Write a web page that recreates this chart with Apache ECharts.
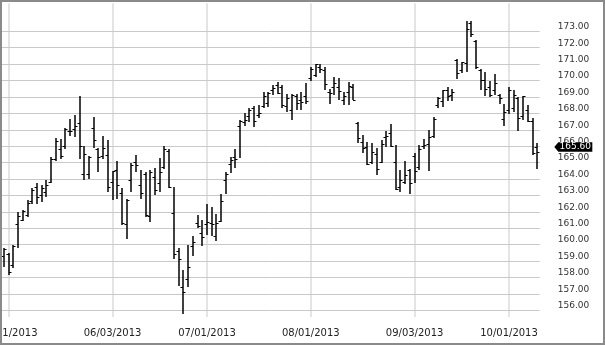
<!DOCTYPE html>
<html><head><meta charset="utf-8">
<script src="https://cdn.jsdelivr.net/npm/echarts@6/dist/echarts.min.js"></script>
<style>html,body{margin:0;padding:0;background:#fff}#c{width:605px;height:345px}</style>
</head><body><div id="c"></div>
<script>
const categories = [
'04/30/2013',
'05/01/2013','05/02/2013','05/03/2013','05/06/2013','05/07/2013','05/08/2013','05/09/2013','05/10/2013','05/13/2013','05/14/2013','05/15/2013','05/16/2013','05/17/2013','05/20/2013','05/21/2013','05/22/2013','05/23/2013','05/24/2013','05/28/2013','05/29/2013','05/30/2013','05/31/2013',
'06/03/2013','06/04/2013','06/05/2013','06/06/2013','06/07/2013','06/10/2013','06/11/2013','06/12/2013','06/13/2013','06/14/2013','06/17/2013','06/18/2013','06/19/2013','06/20/2013','06/21/2013','06/24/2013','06/25/2013','06/26/2013','06/27/2013','06/28/2013',
'07/01/2013','07/02/2013','07/03/2013','07/05/2013','07/08/2013','07/09/2013','07/10/2013','07/11/2013','07/12/2013','07/15/2013','07/16/2013','07/17/2013','07/18/2013','07/19/2013','07/22/2013','07/23/2013','07/24/2013','07/25/2013','07/26/2013','07/29/2013','07/30/2013','07/31/2013',
'08/01/2013','08/02/2013','08/05/2013','08/06/2013','08/07/2013','08/08/2013','08/09/2013','08/12/2013','08/13/2013','08/14/2013','08/15/2013','08/16/2013','08/19/2013','08/20/2013','08/21/2013','08/22/2013','08/23/2013','08/26/2013','08/27/2013','08/28/2013','08/29/2013','08/30/2013',
'09/03/2013','09/04/2013','09/05/2013','09/06/2013','09/09/2013','09/10/2013','09/11/2013','09/12/2013','09/13/2013','09/16/2013','09/17/2013','09/18/2013','09/19/2013','09/20/2013','09/23/2013','09/24/2013','09/25/2013','09/26/2013','09/27/2013','09/30/2013',
'10/01/2013','10/02/2013','10/03/2013','10/04/2013','10/07/2013','10/08/2013','10/09/2013'];

const opens = [
159.3,159.4,158.7,161.2,161.5,161.8,162.6,163.5,163.0,163.2,
163.8,165.2,165.8,166.0,166.9,167.0,167.4,164.3,164.3,167.1,
165.8,165.4,165.45,163.8,164.5,163.1,161.2,163.9,165.0,163.6,
164.3,161.7,164.1,163.7,164.7,165.65,161.9,159.6,157.4,157.9,
159.9,161.3,160.7,161.2,161.3,160.5,161.4,163.9,164.9,165.3,
167.2,167.45,167.8,168.3,167.9,168.4,168.6,169.4,169.7,169.6,
168.4,168.2,169.0,168.8,169.0,170.1,170.3,170.8,170.6,169.3,
169.6,169.6,168.8,169.3,169.6,167.4,166.2,165.9,165.0,165.5,
165.0,166.5,166.8,165.0,163.5,163.8,164.5,165.35,164.7,166.0,
166.1,166.6,168.5,168.7,169.4,169.1,171.2,170.6,171.05,173.5,
172.4,170.6,170.0,169.6,169.4,169.1,167.6,168.2,168.3,168.9,
167.8,168.2,167.5,165.9];

const highs = [
159.8,159.5,160.0,162.0,162.1,162.7,163.45,163.75,163.65,163.95,
165.35,166.5,166.45,167.1,167.65,167.9,169.08,166.0,165.4,167.8,
165.9,166.65,166.4,164.5,165.1,163.45,162.8,165.0,165.45,164.55,
164.4,164.55,164.7,165.25,166.0,165.85,163.5,159.8,158.45,160.0,
160.5,161.8,161.5,162.5,162.3,161.85,163.1,164.45,165.35,165.8,
167.6,168.0,168.35,168.45,168.5,169.3,169.3,169.75,169.9,169.7,
169.15,169.15,169.2,169.3,169.85,170.8,171.0,171.0,170.8,169.5,
170.2,170.15,169.3,169.9,169.8,167.5,166.7,166.25,166.2,165.9,
166.4,166.9,167.35,166.05,164.55,165.1,164.6,165.6,166.1,166.45,
167.0,167.75,169.0,169.45,169.6,169.5,171.3,171.15,173.6,173.65,
172.45,170.7,170.55,170.0,170.4,169.2,168.6,169.6,169.4,169.0,
169.05,168.5,167.7,166.2];

const lows = [
158.65,158.15,158.6,159.8,161.45,161.7,162.45,162.5,162.6,162.9,
163.75,165.1,165.2,165.85,166.6,166.55,165.2,163.95,164.0,165.9,
164.4,165.2,163.2,162.7,162.8,161.2,160.35,163.2,164.4,162.8,
161.7,161.35,163.0,163.2,164.6,163.45,159.1,157.5,155.75,157.45,
159.3,161.0,159.9,160.6,160.5,160.25,161.35,163.1,164.35,164.7,
165.3,167.25,167.5,167.15,167.7,168.3,168.4,169.1,169.15,168.3,
168.1,167.6,168.2,168.2,168.6,170.0,170.2,170.45,169.45,168.6,
169.1,168.8,168.5,168.5,168.8,166.2,165.6,164.85,164.9,164.25,
164.95,165.95,165.95,163.3,163.2,163.7,163.1,163.75,164.55,165.85,
164.5,166.5,168.3,168.4,168.75,168.75,170.1,170.45,170.55,172.65,
170.7,169.45,169.05,169.0,169.1,168.6,167.2,167.95,168.1,166.9,
167.6,167.45,165.45,164.6];

const closes = [
159.7,158.3,159.9,161.7,162.0,162.5,163.3,162.9,163.4,163.6,
165.2,166.3,165.4,167.0,166.9,167.2,166.0,165.5,165.3,166.35,
165.3,165.85,163.5,164.45,163.6,161.3,162.7,164.85,164.8,163.1,
161.8,164.4,163.3,164.4,165.8,163.5,159.4,159.1,157.1,158.6,
160.15,161.1,160.45,161.35,161.2,161.3,162.6,164.3,165.1,165.2,
167.5,167.55,168.15,167.5,168.0,169.0,169.2,169.5,169.2,168.5,
168.9,169.1,168.6,168.65,168.75,170.65,170.95,170.7,169.75,169.2,
169.8,169.35,169.05,169.65,168.8,166.45,165.85,164.9,165.6,164.6,
166.1,166.6,166.0,163.35,163.9,164.2,163.7,164.45,165.8,166.05,
166.5,167.65,168.9,169.4,169.0,169.3,170.4,171.1,173.1,172.8,
170.8,170.0,169.45,169.1,169.8,168.9,168.05,169.4,169.1,167.7,
169.0,167.5,165.55,165.6];

const xTickLabels = ['05/01/2013','06/03/2013','07/01/2013','08/01/2013','09/03/2013','10/01/2013'];
const yTickValues = [156,157,158,159,160,161,162,163,164,165,166,167,168,169,170,171,172,173];
const lastPrice = 165.60;

(function () {
  const Y_LO = 155.59, Y_HI = 174.71;   // visible plot extent
  const GRID = {left: 1.64, right: 65.3, top: -1.52, bottom: 18.29};

  const chart = echarts.init(document.getElementById('c'), null, {renderer: 'canvas'});
  const data = categories.map((d, i) => [i, opens[i], highs[i], lows[i], closes[i]]);

  function crisp(v) { return Math.round(v - 0.5) + 0.5; }

  function renderItem(params, api) {
    const i = api.value(0);
    const pO = api.coord([i, api.value(1)]);
    const pH = api.coord([i, api.value(2)]);
    const pL = api.coord([i, api.value(3)]);
    const pC = api.coord([i, api.value(4)]);
    const x = Math.round(pO[0]);
    const bar = {stroke: '#000', lineWidth: 1.5};
    const tick = {stroke: '#000', lineWidth: 1};
    return {type: 'group', children: [
      {type: 'line', shape: {x1: x, y1: Math.round(pH[1]), x2: x, y2: Math.round(pL[1])}, style: bar},
      {type: 'line', shape: {x1: x - 2.5, y1: crisp(pO[1]), x2: x, y2: crisp(pO[1])}, style: tick},
      {type: 'line', shape: {x1: x, y1: crisp(pC[1]), x2: x + 2.5, y2: crisp(pC[1])}, style: tick}
    ]};
  }

  const vLines = xTickLabels.map(d => {
    const idx = categories.indexOf(d);
    return [{coord: [idx, Y_LO], lineStyle: {color: '#e4e4e4', width: 2, type: 'solid'}}, {coord: [idx, Y_HI]}];
  });
  const hLines = yTickValues.map(v => ({yAxis: v, lineStyle: {color: '#c9c9c9', width: 1, type: 'solid'}}));

  chart.setOption({
    animation: false,
    grid: Object.assign({outerBoundsMode: 'none', containLabel: false}, GRID),
    xAxis: {
      type: 'category', data: categories, boundaryGap: true,
      axisLine: {show: false}, axisTick: {show: false}, splitLine: {show: false},
      axisLabel: {
        interval: (i, v) => xTickLabels.includes(v),
        margin: 1.5, color: '#222', fontFamily: 'DejaVu Sans', fontSize: 10
      }
    },
    yAxis: {
      type: 'value', position: 'right', min: 155, max: 175, interval: 1,
      axisLine: {show: false}, axisTick: {show: false}, splitLine: {show: false},
      axisLabel: {
        formatter: v => yTickValues.includes(Math.round(v * 100) / 100) ? v.toFixed(2) : '',
        margin: 18, align: 'left', verticalAlign: 'bottom', lineHeight: 9,
        color: '#333', fontFamily: 'DejaVu Sans', fontSize: 9
      }
    },
    series: [
      {type: 'line', data: [], silent: true, z: 1,
       markLine: {silent: true, symbol: 'none', z: 1, animation: false, label: {show: false},
                  data: vLines.concat(hLines)}},
      {type: 'custom', z: 10, data: data, encode: {x: 0, y: [1, 2, 3, 4]}, renderItem: renderItem}
    ]
  });

  const yPix = chart.convertToPixel({yAxisIndex: 0}, lastPrice);
  const gr = 605 - GRID.right;
  const bTop = yPix - 10.5, bBot = yPix - 1, bMid = (bTop + bBot) / 2;
  chart.setOption({
    graphic: [
      {type: 'rect', silent: true, z: 100, shape: {x: 1, y: 1, width: 603, height: 343},
       style: {fill: 'none', stroke: '#8a8a8a', lineWidth: 2}},
      {type: 'polygon', silent: true, z: 101,
       shape: {points: [[gr + 14.6, bMid], [gr + 18.6, bTop], [gr + 52.6, bTop], [gr + 52.6, bBot], [gr + 18.6, bBot]]},
       style: {fill: '#000'}},
      {type: 'text', silent: true, z: 102, x: gr + 35.6, y: bMid,
       style: {text: lastPrice.toFixed(2), fill: '#fff', font: '9px "DejaVu Sans"', align: 'center', verticalAlign: 'middle'}}
    ]
  });
})();
</script></body></html>
